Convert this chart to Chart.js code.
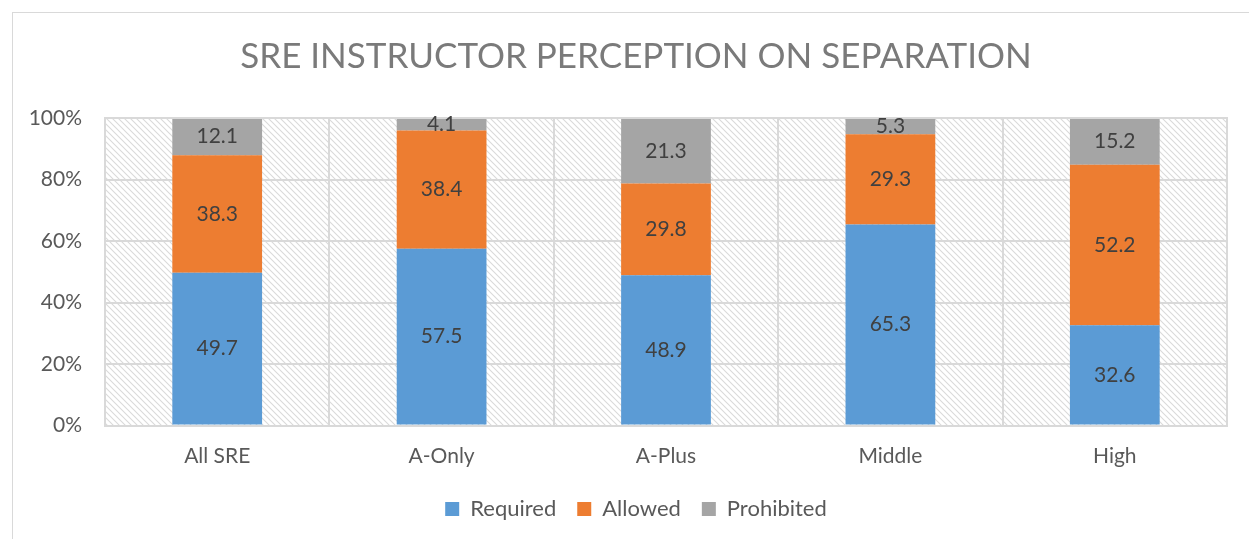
<!DOCTYPE html>
<html>
<head>
<meta charset="utf-8">
<title>SRE Instructor Perception on Separation</title>
<script src="https://cdn.jsdelivr.net/npm/chart.js@4.4.1/dist/chart.umd.min.js"></script>
<style>
  html, body { margin: 0; padding: 0; background: #fff; overflow: hidden; }
  .frame {
    position: absolute; left: 12px; top: 12px;
    width: 1246px; height: 560px;
    border-left: 1px solid #d9d9d9; border-top: 1px solid #d9d9d9;
  }
  canvas { display: block; }
</style>
</head>
<body>
<div class="frame"><canvas id="sepChart" width="1246" height="560"></canvas></div>
<script>
// ===== Data =====
const categories = ['All SRE', 'A-Only', 'A-Plus', 'Middle', 'High'];
const required   = [49.7, 57.5, 48.9, 65.3, 32.6];
const allowed    = [38.3, 38.4, 29.8, 29.3, 52.2];
const prohibited = [12.1, 4.1, 21.3, 5.3, 15.2];
const yTicks     = [0, 20, 40, 60, 80, 100];

const FONT = 'Lato, "Open Sans", sans-serif';

// 100% stacked: each column scaled so its three parts fill the bar
function toShare(series) {
  return series.map((v, i) => v / (required[i] + allowed[i] + prohibited[i]) * 100);
}

// diagonal hatch used as plot background
function makeHatch() {
  const tile = document.createElement('canvas');
  tile.width = 6;
  tile.height = 6;
  const c = tile.getContext('2d');
  c.fillStyle = '#ffffff';
  c.fillRect(0, 0, 6, 6);
  c.strokeStyle = '#dadada';
  c.lineWidth = 1.1;
  c.beginPath();
  c.moveTo(-1, -1); c.lineTo(7, 7);
  c.moveTo(-1, 5); c.lineTo(1, 7);
  c.moveTo(5, -1); c.lineTo(7, 1);
  c.stroke();
  return c.createPattern(tile, 'repeat');
}

const plotBackground = {
  id: 'plotBackground',
  beforeDraw(chart) {
    const { ctx, chartArea: a } = chart;
    ctx.save();
    ctx.fillStyle = makeHatch();
    ctx.fillRect(a.left, a.top, a.right - a.left, a.bottom - a.top);
    ctx.restore();
  },
  afterDatasetsDraw(chart) {
    const { ctx, chartArea: a } = chart;
    ctx.save();
    ctx.strokeStyle = '#d9d9d9';
    ctx.lineWidth = 2;
    ctx.beginPath();
    ctx.moveTo(a.left, a.top); ctx.lineTo(a.right, a.top); ctx.lineTo(a.right, a.bottom);
    ctx.stroke();
    ctx.restore();
  }
};

// value written in the middle of every segment
const segmentLabels = {
  id: 'segmentLabels',
  afterDatasetsDraw(chart) {
    const { ctx } = chart;
    ctx.save();
    ctx.font = '21px ' + FONT;
    ctx.fillStyle = '#404040';
    ctx.textAlign = 'center';
    ctx.textBaseline = 'middle';
    chart.data.datasets.forEach((ds, di) => {
      chart.getDatasetMeta(di).data.forEach((bar, i) => {
        const mid = (bar.y + bar.base) / 2;
        ctx.fillText(ds.raw[i].toFixed(1), bar.x, mid);
      });
    });
    ctx.restore();
  }
};

const ctx = document.getElementById('sepChart');

new Chart(ctx, {
  type: 'bar',
  data: {
    labels: categories,
    datasets: [
      { label: 'Required',   data: toShare(required),   raw: required,   backgroundColor: '#5b9bd5' },
      { label: 'Allowed',    data: toShare(allowed),    raw: allowed,    backgroundColor: '#ed7d31' },
      { label: 'Prohibited', data: toShare(prohibited), raw: prohibited, backgroundColor: '#a5a5a5' }
    ]
  },
  options: {
    responsive: false,
    animation: false,
    layout: { padding: { left: 0, right: 0, top: 0, bottom: 43 } },
    datasets: { bar: { categoryPercentage: 1, barPercentage: 0.4 } },
    plugins: {
      title: {
        display: true,
        text: 'SRE INSTRUCTOR PERCEPTION ON SEPARATION',
        color: '#7a7a7a',
        font: { family: FONT, size: 35, weight: 'normal', lineHeight: 1.2 },
        padding: { top: 23, bottom: 40 }
      },
      legend: {
        position: 'bottom',
        labels: {
          color: '#595959',
          font: { family: FONT, size: 22 },
          boxWidth: 14,
          boxHeight: 14,
          padding: 21
        }
      },
      tooltip: { enabled: false }
    },
    scales: {
      x: {
        stacked: true,
        grid: { color: '#d9d9d9', lineWidth: 2, drawTicks: false, offset: true },
        border: { color: '#d9d9d9', width: 2 },
        ticks: { color: '#595959', font: { family: FONT, size: 21 }, padding: 18 },
        afterFit(scale) { scale.height = 51.5; }
      },
      y: {
        stacked: true,
        min: yTicks[0],
        max: yTicks[yTicks.length - 1],
        afterBuildTicks(scale) { scale.ticks = yTicks.map(v => ({ value: v })); },
        grid: { color: '#d9d9d9', lineWidth: 2, drawTicks: false },
        border: { color: '#d9d9d9', width: 2 },
        ticks: {
          color: '#595959',
          font: { family: FONT, size: 21 },
          padding: 23,
          callback: v => v + '%'
        },
        afterFit(scale) { scale.width = 92; }
      },
      // empty right-hand gutter so title and legend stay centred on the frame
      gutter: {
        type: 'linear',
        position: 'right',
        grid: { display: false, drawTicks: false },
        border: { display: false },
        ticks: { display: false },
        afterFit(scale) { scale.width = 32; }
      }
    }
  },
  plugins: [plotBackground, segmentLabels]
});
</script>
</body>
</html>
